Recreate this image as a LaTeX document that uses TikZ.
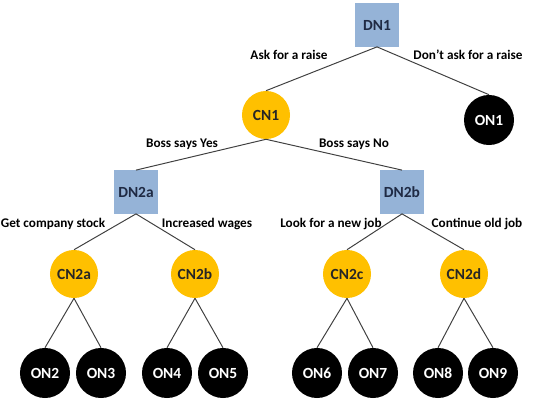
\documentclass[tikz,border=0pt]{standalone}
\usepackage{fontspec}
\setmainfont{Carlito}
\usepackage{xcolor}
\usepackage{tikz}
\usetikzlibrary{positioning}
\definecolor{dnblue}{HTML}{95B3D7}
\definecolor{dnnavy}{HTML}{1F2A44}
\definecolor{cngold}{HTML}{FFC000}
\definecolor{cntext}{HTML}{262626}
\definecolor{brgray}{HTML}{404040}
\tikzset{
  dnode/.style={rectangle,fill=dnblue,text=dnnavy,font=\bfseries\fontsize{11}{13}\selectfont,minimum width=1.1cm,minimum height=1.08cm,inner sep=0pt},
  cnode/.style={circle,fill=cngold,text=cntext,font=\bfseries\fontsize{11}{13}\selectfont,minimum size=1.2cm,inner sep=0pt},
  onode/.style={circle,fill=black,text=white,font=\bfseries\fontsize{11}{13}\selectfont,minimum size=1.25cm,inner sep=0pt},
  brlbl/.style={font=\bfseries\fontsize{9.4}{11}\selectfont,text=black,inner sep=1pt},
  br/.style={draw=brgray,line width=0.7pt},
}
\begin{document}
\begin{tikzpicture}[x=0.025cm,y=-0.025cm]
  \useasboundingbox (0,0) rectangle (533,400);
  \node[dnode] (dn1) at (377,25) {DN1};
  \node[cnode] (cn1) at (266,115) {CN1};
  \node[onode] (on1) at (489,120) {ON1};
  \node[dnode] (dn2a) at (136,192) {DN2a};
  \node[dnode] (dn2b) at (402,192) {DN2b};
  \node[cnode] (cn2a) at (74,274) {CN2a};
  \node[cnode] (cn2b) at (195,274) {CN2b};
  \node[cnode] (cn2c) at (347,274) {CN2c};
  \node[cnode] (cn2d) at (464,274) {CN2d};
  \foreach \n/\x in {2/45,3/101,4/167,5/223,6/317,7/373,8/438,9/493}
    \node[onode] (on\n) at (\x,373) {ON\n};
  \draw[br] (dn1.south) -- (cn1.north);
  \draw[br] (dn1.south) -- (on1.north);
  \draw[br] (cn1.south) -- (dn2a.north);
  \draw[br] (cn1.south) -- (dn2b.north);
  \draw[br] (dn2a.south) -- (cn2a.north);
  \draw[br] (dn2a.south) -- (cn2b.north);
  \draw[br] (dn2b.south) -- (cn2c.north);
  \draw[br] (dn2b.south) -- (cn2d.north);
  \foreach \c/\a/\b in {cn2a/on2/on3,cn2b/on4/on5,cn2c/on6/on7,cn2d/on8/on9}
    {\draw[br] (\c.south) -- (\a.north); \draw[br] (\c.south) -- (\b.north);}
  \node[brlbl] (lraise) at (289,55) {Ask for a raise};
  \node[brlbl] (lnoraise) at (468,55) {Don’t ask for a raise};
  \node[brlbl] (lyes) at (182,144) {Boss says Yes};
  \node[brlbl] (lno) at (354,144) {Boss says No};
  \node[brlbl] (lstock) at (53,224) {Get company stock};
  \node[brlbl] (lwages) at (207,224) {Increased wages};
  \node[brlbl] (lnewjob) at (331,224) {Look for a new job};
  \node[brlbl] (loldjob) at (477,224) {Continue old job};
\end{tikzpicture}
\end{document}
